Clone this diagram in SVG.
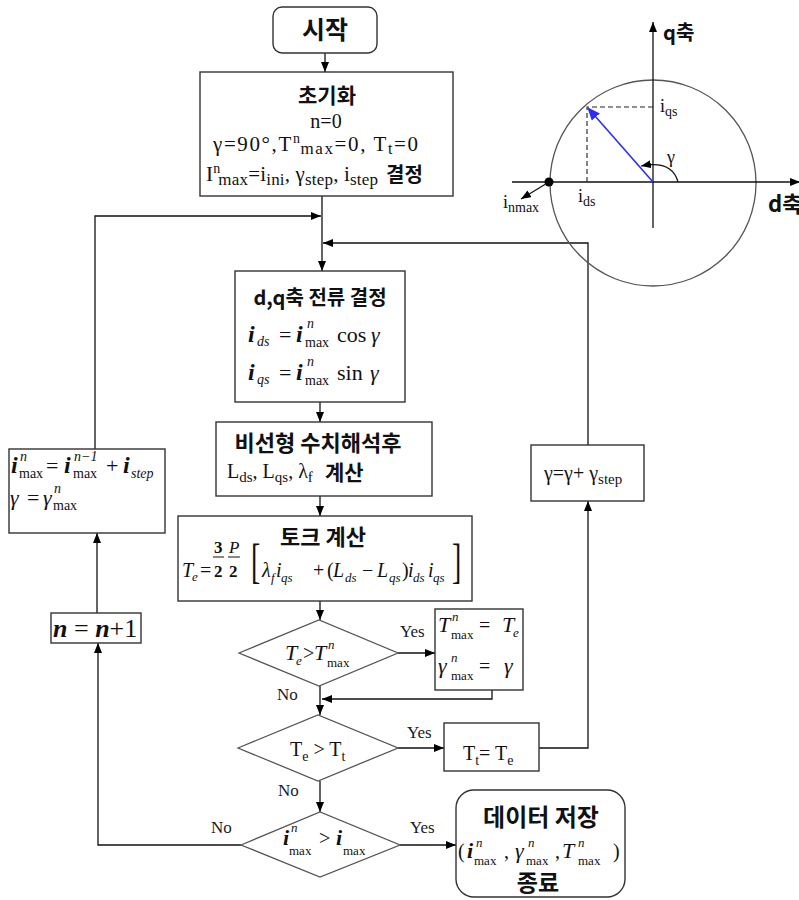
<svg xmlns="http://www.w3.org/2000/svg" width="799" height="900" viewBox="0 0 799 900">
<defs>
<marker id="ah" viewBox="0 0 10 8" refX="10" refY="4" markerWidth="10" markerHeight="8" markerUnits="userSpaceOnUse" orient="auto"><path d="M0,0 L10,4 L0,8 z" fill="#000"/></marker>
<marker id="ahb" viewBox="0 0 12 10" refX="11" refY="5" markerWidth="13" markerHeight="11" markerUnits="userSpaceOnUse" orient="auto"><path d="M0,0 L12,5 L0,10 z" fill="#2b2bff"/></marker>
<style>
.box{fill:#fff;stroke:#333;stroke-width:1.4}
.dia{fill:#fff;stroke:#555;stroke-width:1.3}
.ln{fill:none;stroke:#111;stroke-width:1.3}
.k{font-family:"Noto Sans CJK KR","Noto Sans",sans-serif;font-weight:700;fill:#111}
.s{font-family:"Liberation Serif","Times New Roman",serif;fill:#111}
.it{font-style:italic}
.bi{font-style:italic;font-weight:700}
.lab{font-family:"Liberation Serif","Times New Roman",serif;font-size:17px;fill:#1a1a2a}
</style>
</defs>

<g id="connectors">
<line class="ln" x1="325" y1="53" x2="325" y2="72" marker-end="url(#ah)"/>
<line class="ln" x1="322" y1="196" x2="322" y2="271" marker-end="url(#ah)"/>
<polyline class="ln" points="95,449 95,216 321,216" marker-end="url(#ah)"/>
<polyline class="ln" points="588,445 588,243 323,243" marker-end="url(#ah)"/>
<line class="ln" x1="320" y1="402" x2="320" y2="422" marker-end="url(#ah)"/>
<line class="ln" x1="320" y1="496" x2="320" y2="516" marker-end="url(#ah)"/>
<line class="ln" x1="320" y1="601" x2="320" y2="620" marker-end="url(#ah)"/>
<line class="ln" x1="398" y1="653" x2="435" y2="653" marker-end="url(#ah)"/>
<line class="ln" x1="320" y1="686" x2="320" y2="715" marker-end="url(#ah)"/>
<polyline class="ln" points="492,690 492,699 322,699" marker-end="url(#ah)"/>
<line class="ln" x1="398" y1="748" x2="444" y2="748" marker-end="url(#ah)"/>
<polyline class="ln" points="539,748 588,748 588,501" marker-end="url(#ah)"/>
<line class="ln" x1="320" y1="781" x2="320" y2="812" marker-end="url(#ah)"/>
<line class="ln" x1="400" y1="845" x2="456" y2="845" marker-end="url(#ah)"/>
<polyline class="ln" points="241,845 98,845 98,643" marker-end="url(#ah)"/>
<line class="ln" x1="97" y1="613" x2="97" y2="533" marker-end="url(#ah)"/>
<text class="lab" x="400" y="637">Yes</text>
<text class="lab" x="277" y="700">No</text>
<text class="lab" x="407" y="738">Yes</text>
<text class="lab" x="278" y="796">No</text>
<text class="lab" x="410" y="833">Yes</text>
<text class="lab" x="211" y="833">No</text>
</g>

<g id="start">
<rect class="box" x="273" y="7" width="104" height="46" rx="9"/>
<text class="k" x="325" y="39" font-size="25" text-anchor="middle">시작</text>
</g>

<g id="init">
<rect class="box" x="200" y="72" width="253" height="124"/>
<text class="k" x="327" y="103" font-size="21" text-anchor="middle">초기화</text>
<text class="s" x="326" y="128" font-size="20" text-anchor="middle">n=0</text>
<text class="s" x="213" y="151" font-size="21" textLength="205" lengthAdjust="spacing">γ=90°,T<tspan dy="-8" font-size="14">n</tspan><tspan dy="11" dx="-1" font-size="17">max</tspan><tspan dy="-3">=0, T</tspan><tspan dy="3" font-size="16">t</tspan><tspan dy="-3">=0</tspan></text>
<text class="s" x="206" y="181" font-size="21" textLength="172" lengthAdjust="spacing">I<tspan dy="-8" font-size="14">n</tspan><tspan dy="12" dx="-2" font-size="17">max</tspan><tspan dy="-4">=i</tspan><tspan dy="4" font-size="17">ini</tspan><tspan dy="-4">, γ</tspan><tspan dy="4" font-size="17">step</tspan><tspan dy="-4">, i</tspan><tspan dy="4" font-size="17">step</tspan></text>
<text class="k" x="386" y="182" font-size="20">결정</text>
</g>

<g id="dq">
<rect class="box" x="235" y="271" width="170" height="131"/>
<text class="k" x="320" y="305" font-size="20" text-anchor="middle">d,q축 전류 결정</text>
<text class="s bi" x="248" y="342" font-size="24">i</text>
<text class="s it" x="257" y="346" font-size="14">ds</text>
<text class="s" x="279" y="342" font-size="22">=</text>
<text class="s bi" x="296" y="342" font-size="24">i</text>
<text class="s it" x="307" y="328" font-size="14">n</text>
<text class="s" x="305" y="347" font-size="14">max</text>
<text class="s" x="337" y="342" font-size="22">cos</text>
<text class="s it" x="371" y="342" font-size="22">γ</text>
<text class="s bi" x="248" y="380" font-size="24">i</text>
<text class="s it" x="257" y="384" font-size="14">qs</text>
<text class="s" x="279" y="380" font-size="22">=</text>
<text class="s bi" x="296" y="380" font-size="24">i</text>
<text class="s it" x="307" y="366" font-size="14">n</text>
<text class="s" x="305" y="385" font-size="14">max</text>
<text class="s" x="337" y="380" font-size="22">sin</text>
<text class="s it" x="370" y="380" font-size="22">γ</text>
</g>

<g id="nonlinear">
<rect class="box" x="216" y="422" width="216" height="74"/>
<text class="k" x="318" y="451" font-size="22" text-anchor="middle">비선형 수치해석후</text>
<text class="s" x="227" y="478" font-size="20">L<tspan dy="4" font-size="15">ds</tspan><tspan dy="-4">, L</tspan><tspan dy="4" font-size="15">qs</tspan><tspan dy="-4">, λ</tspan><tspan dy="4" font-size="15">f</tspan></text>
<text class="k" x="325" y="480" font-size="21">계산</text>
</g>

<g id="torque">
<rect class="box" x="178" y="516" width="294" height="85"/>
<text class="k" x="323" y="545" font-size="22" text-anchor="middle">토크 계산</text>
<text class="s it" x="182" y="577" font-size="20">T</text>
<text class="s it" x="192" y="581" font-size="13">e</text>
<text class="s" x="200" y="577" font-size="20">=</text>
<text class="s" x="214" y="553" font-size="17" font-weight="700">3</text>
<line x1="213" y1="557" x2="224" y2="557" stroke="#111" stroke-width="1"/>
<text class="s" x="214" y="577" font-size="17" font-weight="700">2</text>
<text class="s it" x="229" y="553" font-size="17">P</text>
<line x1="228" y1="557" x2="240" y2="557" stroke="#111" stroke-width="1"/>
<text class="s" x="229" y="577" font-size="17" font-weight="700">2</text>
<text class="s" font-size="28" transform="translate(251,577) scale(1,1.75)">[</text>
<text class="s it" x="262" y="577" font-size="20">λ</text>
<text class="s it" x="271" y="582" font-size="13">f</text>
<text class="s it" x="276" y="577" font-size="20">i</text>
<text class="s it" x="281" y="582" font-size="13">qs</text>
<text class="s" x="313" y="577" font-size="20">+</text>
<text class="s" x="327" y="577" font-size="20">(</text>
<text class="s it" x="333" y="577" font-size="20">L</text>
<text class="s it" x="345" y="582" font-size="13">ds</text>
<text class="s" x="362" y="577" font-size="20">−</text>
<text class="s it" x="377" y="577" font-size="20">L</text>
<text class="s it" x="389" y="582" font-size="13">qs</text>
<text class="s" x="402" y="577" font-size="20">)</text>
<text class="s it" x="408" y="577" font-size="20">i</text>
<text class="s it" x="413" y="582" font-size="13">ds</text>
<text class="s it" x="428" y="577" font-size="20">i</text>
<text class="s it" x="433" y="582" font-size="13">qs</text>
<text class="s" font-size="28" transform="translate(452,577) scale(1,1.75)">]</text>
</g>

<g id="cond1">
<polygon class="dia" points="239,653 319,620 398,653 319,686"/>
<text class="s it" x="285" y="660" font-size="22">T</text>
<text class="s it" x="296" y="665" font-size="13">e</text>
<text class="s" x="303" y="660" font-size="20">&gt;</text>
<text class="s it" x="314" y="660" font-size="22">T</text>
<text class="s it" x="328" y="649" font-size="13">n</text>
<text class="s" x="327" y="667" font-size="13">max</text>
</g>

<g id="update1">
<rect class="box" x="435" y="609" width="88" height="81"/>
<text class="s it" x="438" y="632" font-size="22">T</text>
<text class="s it" x="452" y="621" font-size="13">n</text>
<text class="s" x="451" y="639" font-size="13">max</text>
<text class="s" x="479" y="632" font-size="20">=</text>
<text class="s it" x="502" y="632" font-size="22">T</text>
<text class="s it" x="513" y="637" font-size="13">e</text>
<text class="s it" x="438" y="673" font-size="22">γ</text>
<text class="s it" x="451" y="662" font-size="13">n</text>
<text class="s" x="451" y="680" font-size="13">max</text>
<text class="s" x="479" y="673" font-size="20">=</text>
<text class="s it" x="504" y="673" font-size="22">γ</text>
</g>

<g id="cond2">
<polygon class="dia" points="238,748 318,715 398,748 318,781"/>
<text class="s" x="290" y="756" font-size="20">T<tspan dy="5" font-size="14">e</tspan><tspan dy="-5"> &gt; T</tspan><tspan dy="5" font-size="14">t</tspan></text>
</g>

<g id="update2">
<rect class="box" x="444" y="723" width="95" height="48"/>
<text class="s" x="463" y="760" font-size="20">T<tspan dy="5" font-size="14">t</tspan><tspan dy="-5">= T</tspan><tspan dy="5" font-size="14">e</tspan></text>
</g>

<g id="gammastep">
<rect class="box" x="531" y="445" width="113" height="56"/>
<text class="s" x="544" y="480" font-size="20">γ=γ+ γ<tspan dy="4" font-size="15">step</tspan></text>
</g>

<g id="cond3">
<polygon class="dia" points="241,845 320,812 400,845 320,877"/>
<text class="s bi" x="283" y="845" font-size="22">i</text>
<text class="s it" x="291" y="832" font-size="13">n</text>
<text class="s" x="289" y="855" font-size="13">max</text>
<text class="s" x="319" y="845" font-size="20">&gt;</text>
<text class="s bi" x="336" y="845" font-size="22">i</text>
<text class="s" x="343" y="855" font-size="13">max</text>
</g>

<g id="incn">
<rect class="box" x="51" y="613" width="90" height="30"/>
<text class="s" x="53" y="637" font-size="26"><tspan class="bi">n</tspan> = <tspan class="bi">n</tspan>+1</text>
</g>

<g id="updateleft">
<rect class="box" x="9" y="449" width="156" height="84"/>
<text class="s bi" x="11" y="473" font-size="24">i</text>
<text class="s it" x="20" y="461" font-size="14">n</text>
<text class="s" x="19" y="478" font-size="14">max</text>
<text class="s" x="46" y="473" font-size="22">=</text>
<text class="s bi" x="64" y="473" font-size="24">i</text>
<text class="s it" x="74" y="461" font-size="14">n−1</text>
<text class="s" x="73" y="478" font-size="14">max</text>
<text class="s" x="106" y="473" font-size="22">+</text>
<text class="s bi" x="123" y="473" font-size="24">i</text>
<text class="s it" x="131" y="478" font-size="14">step</text>
<text class="s it" x="10" y="505" font-size="22">γ</text>
<text class="s" x="27" y="505" font-size="22">=</text>
<text class="s it" x="43" y="505" font-size="22">γ</text>
<text class="s it" x="54" y="493" font-size="14">n</text>
<text class="s" x="53" y="510" font-size="14">max</text>
</g>

<g id="end">
<rect class="box" x="456" y="790" width="169" height="107" rx="18"/>
<text class="k" x="541" y="826" font-size="24" text-anchor="middle">데이터 저장</text>
<text class="s" x="458" y="858" font-size="20">(</text>
<text class="s bi" x="467" y="858" font-size="22">i</text>
<text class="s it" x="476" y="847" font-size="13">n</text>
<text class="s" x="474" y="865" font-size="13">max</text>
<text class="s" x="504" y="858" font-size="20">,</text>
<text class="s it" x="515" y="858" font-size="22">γ</text>
<text class="s it" x="528" y="847" font-size="13">n</text>
<text class="s" x="526" y="865" font-size="13">max</text>
<text class="s" x="555" y="858" font-size="20">,</text>
<text class="s it" x="562" y="858" font-size="22">T</text>
<text class="s it" x="578" y="847" font-size="13">n</text>
<text class="s" x="578" y="865" font-size="13">max</text>
<text class="s" x="613" y="858" font-size="20">)</text>
<text class="k" x="538" y="891" font-size="23" text-anchor="middle">종료</text>
</g>

<g id="phasor">
<circle cx="653" cy="183" r="103" fill="none" stroke="#555" stroke-width="1.3"/>
<line class="ln" x1="653" y1="228" x2="653" y2="22" marker-end="url(#ah)"/>
<line class="ln" x1="512" y1="182" x2="800" y2="182" marker-end="url(#ah)"/>
<polyline points="587,182 587,107 653,107" fill="none" stroke="#222" stroke-width="1.1" stroke-dasharray="5,3"/>
<line x1="653" y1="182" x2="588" y2="108" stroke="#2b2bff" stroke-width="1.6" marker-end="url(#ahb)"/>
<path d="M678,182 Q672,160 641,166" fill="none" stroke="#111" stroke-width="1.2" marker-end="url(#ah)"/>
<circle cx="549" cy="182" r="4.5" fill="#000"/>
<line class="ln" x1="549" y1="182" x2="521" y2="199" marker-end="url(#ah)"/>
<text class="k" x="663" y="40" font-size="20">q축</text>
<text class="k" x="768" y="212" font-size="22">d축</text>
<text class="s" x="660" y="112" font-size="18">i<tspan dy="4" font-size="14">qs</tspan></text>
<text class="s" x="667" y="163" font-size="18">γ</text>
<text class="s" x="578" y="202" font-size="18">i<tspan dy="4" font-size="14">ds</tspan></text>
<text class="s" x="503" y="208" font-size="18">i<tspan dy="4" font-size="14">nmax</tspan></text>
</g>
</svg>
